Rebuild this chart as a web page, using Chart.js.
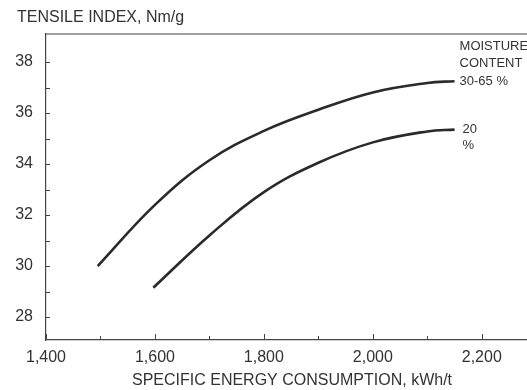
<!DOCTYPE html>
<html>
<head>
<meta charset="utf-8">
<script src="https://cdn.jsdelivr.net/npm/chart.js@4/dist/chart.umd.min.js"></script>
<style>
    html, body { margin: 0; padding: 0; background: #fff; }
    canvas { display: block; }
</style>
</head>
<body>
<canvas id="tensileChart" width="527" height="390"></canvas>
<script>
// Tensile index vs specific energy consumption, two moisture levels

const energyWet = [1495, 1600, 1700, 1800, 1900, 2000, 2100, 2150];
const tensileWet = [30.0, 32.4, 34.15, 35.3, 36.13, 36.81, 37.18, 37.25];

const energyDry = [1597, 1700, 1800, 1900, 2000, 2100, 2150];
const tensileDry = [29.15, 31.2, 32.9, 34.05, 34.85, 35.28, 35.35];

const xTicks = [1400, 1600, 1800, 2000, 2200];
const xMinorTicks = [1500, 1700, 1900, 2100];
const yTicks = [28, 30, 32, 34, 36, 38];
const yMinorTicks = [29, 31, 33, 35, 37];

const ink = '#333333';
const fontFamily = '"Liberation Sans", Arial, sans-serif';

function toPoints(xs, ys) {
    return xs.map((x, i) => ({ x: x, y: ys[i] }));
}

// Frame, inward tick marks and text labels
const decorations = {
    id: 'decorations',
    afterDraw(chart) {
        const ctx = chart.ctx;
        const area = chart.chartArea;
        const xs = chart.scales.x;
        const ys = chart.scales.y;

        ctx.save();
        ctx.strokeStyle = '#444';
        ctx.lineWidth = 1.2;

        // top frame line
        ctx.beginPath();
        ctx.moveTo(area.left, area.top);
        ctx.lineTo(area.right, area.top);
        ctx.stroke();

        // x tick marks pointing up
        ctx.lineWidth = 1;
        xTicks.forEach(v => {
            const px = Math.round(xs.getPixelForValue(v)) + 0.5;
            ctx.beginPath();
            ctx.moveTo(px, area.bottom);
            ctx.lineTo(px, area.bottom - 6);
            ctx.stroke();
        });
        xMinorTicks.forEach(v => {
            const px = Math.round(xs.getPixelForValue(v)) + 0.5;
            ctx.beginPath();
            ctx.moveTo(px, area.bottom);
            ctx.lineTo(px, area.bottom - 4);
            ctx.stroke();
        });

        // y tick marks pointing right
        yTicks.concat(yMinorTicks).forEach(v => {
            const py = Math.round(ys.getPixelForValue(v)) + 0.5;
            ctx.beginPath();
            ctx.moveTo(area.left, py);
            ctx.lineTo(area.left + 4, py);
            ctx.stroke();
        });

        // axis titles
        ctx.fillStyle = ink;
        ctx.font = '16px ' + fontFamily;
        ctx.textBaseline = 'middle';
        ctx.textAlign = 'left';
        ctx.fillText('TENSILE INDEX, Nm/g', 17, 18);
        ctx.textAlign = 'center';
        ctx.fillText('SPECIFIC ENERGY CONSUMPTION, kWh/t', 292, 381);

        // curve labels next to the line ends
        ctx.font = '13px ' + fontFamily;
        ctx.textAlign = 'left';
        const endWet = energyWet[energyWet.length - 1];
        const endDry = energyDry[energyDry.length - 1];
        const wx = xs.getPixelForValue(endWet) + 5;
        const wy = ys.getPixelForValue(tensileWet[tensileWet.length - 1]);
        ctx.fillText('MOISTURE', wx, wy - 35);
        ctx.fillText('CONTENT', wx, wy - 18);
        ctx.fillText('30-65 %', wx, wy);
        const dx = xs.getPixelForValue(endDry) + 8;
        const dy = ys.getPixelForValue(tensileDry[tensileDry.length - 1]);
        ctx.fillText('20', dx, dy);
        ctx.fillText('%', dx, dy + 16);

        ctx.restore();
    }
};

const lineStyle = {
    showLine: true,
    borderColor: '#2a2a2a',
    borderWidth: 2.6,
    pointRadius: 0,
    tension: 0.4,
    fill: false
};

new Chart(document.getElementById('tensileChart').getContext('2d'), {
    type: 'scatter',
    data: {
        datasets: [
            Object.assign({ label: '30-65 %', data: toPoints(energyWet, tensileWet) }, lineStyle),
            Object.assign({ label: '20 %', data: toPoints(energyDry, tensileDry) }, lineStyle)
        ]
    },
    options: {
        responsive: false,
        animation: false,
        devicePixelRatio: 1,
        layout: { padding: { top: 34, right: 0, bottom: 0, left: 0 } },
        plugins: {
            legend: { display: false },
            tooltip: { enabled: false }
        },
        scales: {
            x: {
                type: 'linear',
                min: 1400,
                max: 2283,
                afterFit: scale => { scale.height = 50; },
                afterBuildTicks: scale => { scale.ticks = xTicks.map(v => ({ value: v })); },
                grid: { display: false, drawTicks: false },
                border: { display: true, color: '#444', width: 1.2 },
                ticks: {
                    color: ink,
                    padding: 8,
                    maxRotation: 0,
                    autoSkip: false,
                    font: { family: fontFamily, size: 16 },
                    callback: v => v.toLocaleString('en-US')
                }
            },
            y: {
                type: 'linear',
                min: 27.1,
                max: 39.1,
                afterFit: scale => { scale.width = 46; },
                afterBuildTicks: scale => { scale.ticks = yTicks.map(v => ({ value: v })); },
                grid: { display: false, drawTicks: false },
                border: { display: true, color: '#444', width: 1.2 },
                ticks: {
                    color: ink,
                    padding: 13,
                    autoSkip: false,
                    font: { family: fontFamily, size: 16 },
                    callback: v => String(v)
                }
            }
        }
    },
    plugins: [decorations]
});
</script>
</body>
</html>
